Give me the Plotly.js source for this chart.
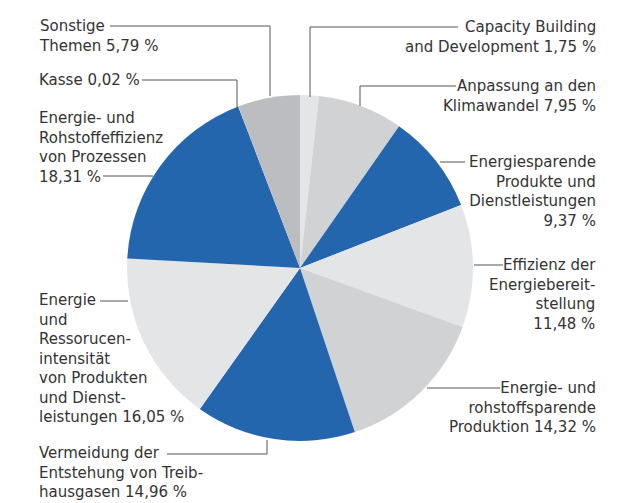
<!DOCTYPE html>
<html>
<head>
<meta charset="utf-8">
<script src="https://cdn.plot.ly/plotly-3.0.1.min.js"></script>
<style>html,body{margin:0;padding:0;background:#fff;}#chart{width:633px;height:503px;}</style>
</head>
<body>
<div id="chart"></div>
<script>
// ---- data ----
var categories = [
  "Capacity Building and Development",
  "Anpassung an den Klimawandel",
  "Energiesparende Produkte und Dienstleistungen",
  "Effizienz der Energiebereitstellung",
  "Energie- und rohstoffsparende Produktion",
  "Vermeidung der Entstehung von Treibhausgasen",
  "Energie und Ressorucenintensität von Produkten und Dienstleistungen",
  "Energie- und Rohstoffeffizienz von Prozessen",
  "Kasse",
  "Sonstige Themen"
];
var values = [1.75, 7.95, 9.37, 11.48, 14.32, 14.96, 16.05, 18.31, 0.02, 5.79];
var labelPrefix = [
  "Capacity Building<br>and Development ",
  "Anpassung an den<br>Klimawandel ",
  "Energiesparende<br>Produkte und<br>Dienstleistungen<br>",
  "Effizienz der<br>Energiebereit-<br>stellung<br>",
  "Energie- und<br>rohstoffsparende<br>Produktion ",
  "Vermeidung der<br>Entstehung von Treib-<br>hausgasen ",
  "Energie<br>und<br>Ressorucen-<br>intensität<br>von Produkten<br>und Dienst-<br>leistungen ",
  "Energie- und<br>Rohstoffeffizienz<br>von Prozessen<br>",
  "Kasse ",
  "Sonstige<br>Themen "
];
var colors = ["#e4e5e7", "#d1d2d4", "#2366ad", "#e4e5e7", "#d1d2d4", "#2366ad", "#e4e5e7", "#2366ad", "#eeeeee", "#bcbdc0"];

// ---- layout helpers (pixel -> paper) ----
var W = 633, H = 503;
function px(x){ return x / W; }
function py(y){ return 1 - y / H; }
function fmt(v){ return v.toFixed(2).replace(".", ",") + " %"; }

// label placement: [anchorX, firstLineCenterY, side]
var labelPos = [
  [598, 27, "right"],
  [598, 86, "right"],
  [598, 162, "right"],
  [598, 265, "right"],
  [598, 388, "right"],
  [37, 453, "left"],
  [37, 300, "left"],
  [37, 118, "left"],
  [37, 80, "left"],
  [37, 26, "left"]
];
// leader lines as polylines in pixels
var leaders = [
  [[458, 27], [310, 27], [310, 97]],
  [[456, 86], [360, 86], [360, 106]],
  [[465, 162], [440, 162]],
  [[503, 265], [474, 265]],
  [[500, 388], [427, 388]],
  [[167, 454], [267, 454], [267, 440]],
  [[100, 301], [128, 301]],
  [[103, 176], [153, 176]],
  [[142, 80], [237, 80], [237, 108]],
  [[110, 26], [270, 26], [270, 96]]
];

var fontSize = 15;
var annotations = categories.map(function(c, i){
  var p = labelPos[i];
  return {
    text: labelPrefix[i] + fmt(values[i]),
    xref: "paper", yref: "paper",
    x: px(p[0]), y: py(p[1] - 11),
    xanchor: p[2], yanchor: "top",
    align: p[2],
    showarrow: false,
    font: {family: "DejaVu Sans, sans-serif", size: fontSize, color: "#333333"}
  };
});

var shapes = [];
leaders.forEach(function(pts){
  for (var k = 0; k < pts.length - 1; k++) {
    shapes.push({
      type: "line", xref: "paper", yref: "paper",
      x0: px(pts[k][0]), y0: py(pts[k][1]),
      x1: px(pts[k+1][0]), y1: py(pts[k+1][1]),
      line: {color: "#555555", width: 1}
    });
  }
});

var trace = {
  type: "pie",
  labels: categories,
  values: values,
  sort: false,
  direction: "clockwise",
  rotation: 0,
  textinfo: "none",
  hoverinfo: "label+percent",
  marker: {colors: colors, line: {width: 0}},
  domain: {x: [px(127), px(473)], y: [py(441), py(95)]},
  showlegend: false
};

var layout = {
  width: W, height: H,
  margin: {l: 0, r: 0, t: 0, b: 0},
  paper_bgcolor: "#ffffff",
  plot_bgcolor: "#ffffff",
  showlegend: false,
  annotations: annotations,
  shapes: shapes
};

Plotly.newPlot("chart", [trace], layout, {displayModeBar: false, staticPlot: true});
</script>
</body>
</html>
